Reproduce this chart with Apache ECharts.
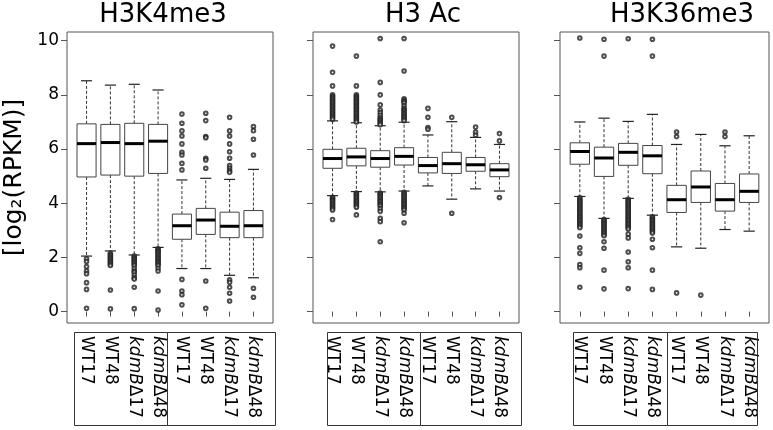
<!DOCTYPE html>
<html><head><meta charset="utf-8">
<script src="https://cdn.jsdelivr.net/npm/echarts@6/dist/echarts.min.js"></script>
<style>html,body{margin:0;padding:0;background:#fff}#c{width:773px;height:430px}</style>
</head><body><div id="c"></div>
<script>
const categories = ['WT17','WT48','kdmBΔ17','kdmBΔ48','WT17','WT48','kdmBΔ17','kdmBΔ48'];
const panelTitles = ['H3K4me3','H3 Ac','H3K36me3'];
const yTicks = [0,2,4,6,8,10];
const yLabel = '[log₂(RPKM)]';

// [lower whisker, Q1, median, Q3, upper whisker]
const h3k4me3Boxes = [
  [2.05,4.97,6.20,6.93,8.52],[2.24,5.04,6.24,6.91,8.36],[2.09,5.00,6.20,6.95,8.39],[2.37,5.10,6.29,6.91,8.18],
  [1.59,2.67,3.17,3.60,4.86],[1.59,2.85,3.38,3.81,4.92],[1.34,2.73,3.15,3.67,4.88],[1.25,2.73,3.17,3.73,5.25]
];
const h3k4me3Outliers = [
  [1.95,1.85,1.66,1.5,1.4,1.07,0.82,0.12],
  [2.15,2.1,2.05,2.0,1.95,1.9,1.85,1.8,1.75,1.7,0.8,0.1],
  [2.05,2.0,1.95,1.9,1.85,1.8,1.75,1.7,1.6,1.5,1.45,1.35,1.25,1.2,0.9,0.11],
  [2.32,2.28,2.24,2.2,2.15,2.1,2.05,2.0,1.95,1.9,1.85,1.8,1.75,1.7,1.6,1.5,0.76,0.06],
  [7.29,6.95,6.67,6.48,6.19,5.88,5.78,5.47,5.23,1.19,0.76,0.62,0.25],
  [7.32,7.05,6.46,6.42,5.66,5.6,5.29,1.13,0.12],
  [7.17,6.67,6.48,6.19,5.9,5.66,5.39,5.29,5.2,5.14,1.17,1.08,0.9,0.68,0.39],
  [6.83,6.68,6.36,5.78,0.86,0.53]
];

const h3AcBoxes = [
  [4.28,5.29,5.65,5.99,7.04],[4.43,5.38,5.71,6.03,6.97],[4.42,5.33,5.65,5.94,6.86],[4.45,5.41,5.73,6.05,6.99],
  [4.64,5.12,5.39,5.69,6.52],[4.15,5.10,5.46,5.88,7.01],[4.53,5.18,5.42,5.69,6.43],[4.45,4.98,5.23,5.46,6.17]
];
const h3AcOutliers = [
  [9.8,8.83,8.33,8.0,7.95,7.9,7.85,7.8,7.75,7.7,7.65,7.6,7.55,7.5,7.45,7.4,7.35,7.3,7.25,7.2,7.15,7.1,
   4.22,4.18,4.14,4.1,4.05,4.0,3.95,3.9,3.85,3.8,3.75,3.4],
  [9.43,8.33,8.0,7.95,7.9,7.85,7.8,7.75,7.7,7.65,7.6,7.55,7.5,7.45,7.4,7.35,7.3,7.25,7.2,7.15,7.1,7.05,7.0,
   4.38,4.34,4.3,4.25,4.2,4.15,4.1,4.05,4.0,3.95,3.9,3.85,3.57],
  [10.08,8.46,8.0,7.63,7.44,7.35,7.25,7.15,7.1,7.05,7.0,6.95,6.9,
   4.38,4.34,4.3,4.25,4.2,4.15,4.1,4.05,4.0,3.95,3.9,3.8,3.7,3.44,3.32,2.58],
  [10.08,8.88,7.85,7.8,7.75,7.7,7.6,7.5,7.45,7.4,7.35,7.3,7.25,7.2,7.15,7.1,7.05,
   4.4,4.35,4.3,4.25,4.2,4.15,4.1,4.05,4.0,3.95,3.9,3.85,3.8,3.75,3.63,3.28],
  [7.5,7.17,6.79,6.73],
  [7.17,3.63],
  [6.81,6.63,6.51],
  [6.57,6.3,4.21]
];

const h3k36me3Boxes = [
  [4.25,5.44,5.91,6.23,7.00],[3.44,4.99,5.67,6.07,7.14],[4.18,5.40,5.88,6.21,7.02],[3.56,5.09,5.75,6.13,7.28],
  [2.39,3.66,4.13,4.66,6.17],[2.34,4.03,4.60,5.19,6.54],[3.03,3.71,4.13,4.73,6.12],[2.97,4.03,4.44,5.08,6.49]
];
const h3k36me3Outliers = [
  [10.1,4.2,4.15,4.1,4.05,4.0,3.95,3.9,3.85,3.8,3.75,3.7,3.65,3.6,3.55,3.5,3.45,3.4,3.35,3.3,3.25,3.2,3.15,3.1,
   2.79,2.36,2.15,1.74,1.62,0.9],
  [10.05,9.43,3.4,3.35,3.3,3.25,3.2,3.15,3.1,3.05,3.0,2.95,2.9,2.85,2.8,2.58,2.34,1.53,0.84],
  [10.07,4.15,4.1,4.05,4.0,3.95,3.9,3.85,3.8,3.75,3.7,3.65,3.6,3.55,3.5,3.45,3.4,3.35,3.3,3.25,3.2,3.15,3.1,3.05,
   2.86,2.72,2.2,1.84,1.62,0.85],
  [10.05,9.43,3.5,3.45,3.4,3.35,3.3,3.25,3.2,3.15,3.1,3.05,3.0,2.95,2.9,2.67,2.36,1.53,0.82],
  [6.63,6.46,0.69],
  [0.61],
  [6.63,6.46],
  []
];

const panelBoxes = [h3k4me3Boxes, h3AcBoxes, h3k36me3Boxes];
const panelOutliers = [h3k4me3Outliers, h3AcOutliers, h3k36me3Outliers];

const FONT = '"DejaVu Sans", Verdana, sans-serif';
const xPositions = categories.map((c, i) => i + 1);
const grids = [
  {left: 67, width: 206, top: 32, height: 291},
  {left: 313, width: 206, top: 32, height: 291},
  {left: 560, width: 209, top: 32, height: 291}
];
const titleX = [163, 423, 682];

function labelFmt(v) {
  const name = categories[Math.round(v) - 1];
  if (!name) return '';
  if (name.indexOf('kdmB') === 0) return '{i|kdmB}{n|' + name.slice(4) + '}';
  return '{n|' + name + '}';
}

function renderBox(params, api) {
  const x = api.value(0);
  const lo = api.coord([x, api.value(1)]);
  const q1 = api.coord([x, api.value(2)]);
  const md = api.coord([x, api.value(3)]);
  const q3 = api.coord([x, api.value(4)]);
  const hi = api.coord([x, api.value(5)]);
  const w = api.size([0.8, 0])[0];
  const cx = lo[0];
  const hw = w / 2, cw = w * 0.29;
  const dash = {stroke: '#333', lineWidth: 1, lineDash: [3, 2]};
  const solid = {stroke: '#222', lineWidth: 1.2};
  return {
    type: 'group',
    children: [
      {type: 'line', shape: {x1: cx, y1: q3[1], x2: cx, y2: hi[1]}, style: dash},
      {type: 'line', shape: {x1: cx, y1: q1[1], x2: cx, y2: lo[1]}, style: dash},
      {type: 'line', shape: {x1: cx - cw, y1: hi[1], x2: cx + cw, y2: hi[1]}, style: solid},
      {type: 'line', shape: {x1: cx - cw, y1: lo[1], x2: cx + cw, y2: lo[1]}, style: solid},
      {type: 'rect', shape: {x: cx - hw, y: q3[1], width: w, height: q1[1] - q3[1]},
       style: {fill: '#fff', stroke: '#444', lineWidth: 1}},
      {type: 'line', shape: {x1: cx - hw, y1: md[1], x2: cx + hw, y2: md[1]},
       style: {stroke: '#000', lineWidth: 3}}
    ]
  };
}

const xAxes = [], yAxes = [], series = [];
grids.forEach((g, i) => {
  xAxes.push({
    gridIndex: i, type: 'value', min: 0.18, max: 8.82,
    axisLine: {show: false},
    splitLine: {show: false},
    axisTick: {show: true, customValues: xPositions, length: 5, lineStyle: {color: '#555'}},
    axisLabel: {
      show: true, customValues: xPositions, rotate: -90, margin: 13,
      formatter: labelFmt,
      rich: {
        i: {fontStyle: 'italic', fontSize: 17, fontFamily: FONT, color: '#000'},
        n: {fontSize: 17, fontFamily: FONT, color: '#000'}
      }
    }
  });
  yAxes.push({
    gridIndex: i, type: 'value', min: -0.42, max: 10.32,
    axisLine: {show: false},
    splitLine: {show: false},
    axisTick: {show: true, customValues: yTicks, length: 6, lineStyle: {color: '#555'}},
    axisLabel: {show: i === 0, customValues: yTicks, margin: 8, fontSize: 17, fontFamily: FONT, color: '#000'},
    name: i === 0 ? yLabel : '',
    nameLocation: 'middle', nameRotate: 90, nameGap: 40,
    nameTextStyle: {fontSize: 25, fontFamily: FONT, color: '#000'}
  });
  series.push({
    type: 'custom', xAxisIndex: i, yAxisIndex: i,
    renderItem: renderBox,
    encode: {x: 0, y: [1, 2, 3, 4, 5]},
    data: panelBoxes[i].map((b, j) => [j + 1].concat(b)),
    silent: true
  });
  const pts = [];
  panelOutliers[i].forEach((arr, j) => arr.forEach(v => pts.push([j + 1, v])));
  series.push({
    type: 'scatter', xAxisIndex: i, yAxisIndex: i,
    symbol: 'emptyCircle', symbolSize: 3.6,
    itemStyle: {color: '#222', borderWidth: 0.9},
    data: pts, silent: true
  });
});

const graphics = [];
panelTitles.forEach((t, i) => {
  graphics.push({
    type: 'text', x: titleX[i], y: 15,
    style: {text: t, fontSize: 26, fontFamily: FONT, fill: '#000', textAlign: 'center', textVerticalAlign: 'middle'}
  });
});
const labelBoxes = [[74, 167], [167, 275], [327, 420], [420, 521], [573, 667], [667, 757]];
labelBoxes.forEach(b => {
  graphics.push({
    type: 'rect', shape: {x: b[0] + 0.5, y: 332.5, width: b[1] - b[0], height: 93},
    style: {fill: 'none', stroke: '#333', lineWidth: 1}, z: 10
  });
});

const chart = echarts.init(document.getElementById('c'), null, {renderer: 'canvas'});
chart.setOption({
  backgroundColor: '#fff',
  animation: false,
  grid: grids.map(g => Object.assign({show: true, borderColor: '#555', borderWidth: 1, backgroundColor: 'transparent'}, g)),
  xAxis: xAxes,
  yAxis: yAxes,
  series: series,
  graphic: graphics
});
</script></body></html>
